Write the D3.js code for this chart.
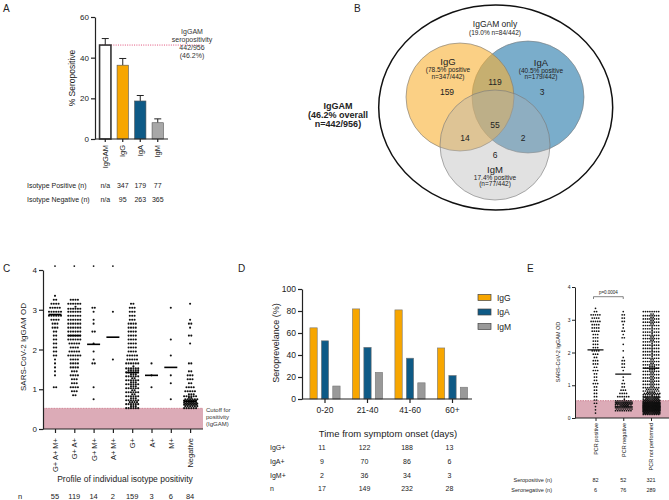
<!DOCTYPE html>
<html><head><meta charset="utf-8">
<script src="https://cdn.jsdelivr.net/npm/d3@7"></script>
<style>
body{margin:0;background:#fff;}
svg{font-family:"Liberation Sans",Arial,Helvetica,sans-serif;display:block;}
</style></head><body>
<svg id="fig" width="669" height="500"></svg>
<script>
// ---------------- DATA ----------------
// Panel A
const aCategories = ["IgGAM", "IgG", "IgA", "IgM"];
const aPercent = [46.2, 36.3, 18.7, 8.0];
const aErrUpper = [49.4, 39.6, 21.4, 9.9];
const aTicks = [0, 20, 40, 60];
const aCutoff = 46.2;
const aCutoffText = ["IgGAM", "seropositivity", "442/956", "(46.2%)"];
const aRowLabels = ["Isotype Positive (n)", "Isotype Negative (n)"];
const aPositive = ["n/a", "347", "179", "77"];
const aNegative = ["n/a", "95", "263", "365"];

// Panel B (Venn)
const vennSets = ["IgG", "IgA", "IgM"];
const vennSetPct = ["78.5", "40.5", "17.4"];
const vennSetN = [347, 179, 77];
const vennTotal = 442;
const vennRegions = ["G", "GA", "A", "GAM", "GM", "AM", "M"];
const vennRegionCounts = [159, 119, 3, 55, 14, 2, 6];
const vennOnlyText = ["IgGAM only", "(19.0% n=84/442)"];
const vennOverall = ["IgGAM", "(46.2% overall", "n=442/956)"];

// Panel C
const cCategories = ["G+ A+ M+", "G+ A+", "G+ M+", "A+ M+", "G+", "A+", "M+", "Negative"];
const cN = [55, 119, 14, 2, 159, 3, 6, 84];
const cMedians = [2.88, 2.35, 2.13, 2.31, 1.42, 1.35, 1.55, 0.7];
const cBinStart = [1.0, 0.8, 0.7, 1.7, 0.5, 1.0, 0.7, 0.5];   // OD, bins of 0.1
const cBinCounts = [
  [2,0,0,1,1,1,1,1,2,2,2,2,2,2,2,3,3,4,6,6,5,4,2,1],
  [2,3,4,3,3,4,3,4,4,4,6,5,4,5,6,6,6,6,6,6,6,6,7,6,4],
  [1,0,0,1,0,0,0,0,0,2,1,0,1,0,1,0,0,2,0,1,1,0,1,2],
  [1,0,0,0,0,0,0,0,0,0,0,0,1],
  [9,10,9,8,8,9,9,8,9,11,7,6,5,5,4,4,4,4,4,4,4,4,3,3,3,3,2],
  [1,0,0,1,0,0,1],
  [1,0,0,0,1,0,1,0,0,0,0,1,0,0,0,1,0,0,0,0,0,0,0,1],
  [12,20,14,9,5,4,2,3,3,2,0,2,0,0,0,0,1,0,2,0,1,2,1,0,0,0,1]
];
const cTopMarks = ["G+ A+ M+", "G+ A+", "G+ M+", "A+ M+"];
const cTopMarkValue = 4.1;
const cTicks = [0, 1, 2, 3, 4];
const cCutoff = 0.52;
const cCutoffText = ["Cutoff for", "positivity", "(IgGAM)"];

// Panel D
const dGroups = ["0-20", "21-40", "41-60", "60+"];
const dSeries = ["IgG", "IgA", "IgM"];
const dIgG = [64.7, 81.9, 81.0, 46.4];
const dIgA = [52.9, 47.0, 37.1, 21.4];
const dIgM = [11.8, 24.2, 14.7, 10.7];
const dTicks = [0, 20, 40, 60, 80, 100];
const dRowLabels = ["IgG+", "IgA+", "IgM+", "n"];
const dRowIgG = [11, 122, 188, 13];
const dRowIgA = [9, 70, 86, 6];
const dRowIgM = [2, 36, 34, 3];
const dRowN = [17, 149, 232, 28];

// Panel E
const eCategories = ["PCR positive", "PCR negative", "PCR not performed"];
const eMeans = [2.08, 1.34, 1.52];
const eBinStart = [0.1, 0.2, 0.1];
const eBinCounts = [
  [1,1,1,2,2,2,2,2,2,3,2,2,2,3,2,3,3,2,3,4,3,3,3,3,3,4,4,4,5,4,5,2,1],
  [16,28,32,9,6,4,3,2,2,1,1,0,1,2,2,2,1,0,1,0,1,0,2,1,2,1,1,2,2,2,1],
  [40,80,90,79,30,25,20,14,10,10,10,10,10,11,11,10,10,9,9,9,9,9,10,10,9,9,9,10,10,10,10,8]
];
const eTicks = [0, 1, 2, 3, 4];
const eCutoff = 0.53;
const ePValue = "p=0.0004";
const eRowLabels = ["Seropositive (n)", "Seronegative (n)"];
const eSeropositive = [82, 52, 321];
const eSeronegative = [6, 76, 289];

// ---------------- STYLE ----------------
const INK = "#222";
const cOrange = "#F7A600", cBlue = "#0E5A86", cGrayA = "#A8A8A8", cGrayD = "#999999";
const PINK = "#dcabb7", PINK_LINE = "#c86c80";
const intFmt = d3.format("d");

const svg = d3.select("#fig");

function txt(g, x, y, s, size, o = {}) {
  return g.append("text").attr("x", x).attr("y", y).attr("font-size", size)
    .attr("text-anchor", o.anchor || "middle").attr("fill", o.fill || INK)
    .attr("font-weight", o.weight || null).text(s);
}
function vtxt(g, x, y, s, size) {
  return g.append("text").attr("transform", `translate(${x},${y}) rotate(-90)`)
    .attr("font-size", size).attr("text-anchor", "middle").attr("fill", INK).text(s);
}
function styleAxis(g, size, w) {
  g.attr("font-family", null);
  g.selectAll(".domain").attr("stroke", INK).attr("stroke-width", w);
  g.selectAll(".tick line").attr("stroke", INK).attr("stroke-width", w);
  g.selectAll(".tick text").attr("font-size", size).attr("fill", INK);
}
function rotLabels(g, size) {
  g.selectAll(".tick text").attr("transform", "rotate(-90)").attr("text-anchor", "end")
    .attr("x", -6).attr("y", 0).attr("dy", "0.35em").attr("font-size", size);
}
// deterministic dot layout from binned values
function swarm(counts, start, yS, xc, maxPer, dx) {
  const pts = [];
  counts.forEach((c, i) => {
    if (!c) return;
    const rows = Math.ceil(c / maxPer);
    for (let r = 0; r < rows; r++) {
      const inRow = Math.min(maxPer, c - r * maxPer);
      const v = start + (i + (r + 0.5) / rows) * 0.1;
      const shift = (rows > 1 && r % 2) ? dx / 2 : 0;
      for (let k = 0; k < inRow; k++) {
        pts.push({ x: xc + (k - (inRow - 1) / 2) * dx + shift, y: yS(v) });
      }
    }
  });
  return pts;
}

// ---------------- PANEL A ----------------
{
  const g = svg.append("g");
  txt(g, 3, 12, "A", 10, { anchor: "start" });
  const y = d3.scaleLinear().domain([0, 60]).range([139, 17]);
  const x = d3.scaleBand().domain(aCategories).range([96.5, 166.5]).paddingInner(0.35).paddingOuter(0.175);
  const fills = [ "#ffffff", cOrange, cBlue, cGrayA ];
  g.append("line").attr("x1", x("IgGAM")).attr("x2", 203).attr("y1", y(aCutoff)).attr("y2", y(aCutoff))
    .attr("stroke", "#e0507a").attr("stroke-width", 1).attr("stroke-dasharray", "1,1.3");
  aCategories.forEach((c, i) => {
    const xc = x(c) + x.bandwidth() / 2;
    g.append("line").attr("x1", xc).attr("x2", xc).attr("y1", y(aPercent[i])).attr("y2", y(aErrUpper[i]))
      .attr("stroke", INK).attr("stroke-width", 1);
    g.append("line").attr("x1", xc - 3.5).attr("x2", xc + 3.5).attr("y1", y(aErrUpper[i])).attr("y2", y(aErrUpper[i]))
      .attr("stroke", INK).attr("stroke-width", 1);
    g.append("rect").attr("x", x(c)).attr("width", x.bandwidth()).attr("y", y(aPercent[i]))
      .attr("height", y(0) - y(aPercent[i])).attr("fill", fills[i])
      .attr("stroke", i === 0 ? "#333" : "#555").attr("stroke-width", i === 0 ? 1.6 : 0.6);
  });
  const gy = g.append("g").attr("transform", "translate(95,0)")
    .call(d3.axisLeft(y).tickValues(aTicks).tickSize(4).tickSizeOuter(0).tickPadding(2));
  styleAxis(gy, 8, 1.2);
  const gx = g.append("g").attr("transform", "translate(0,139)")
    .call(d3.axisBottom(x).tickSize(3).tickSizeOuter(0));
  styleAxis(gx, 8, 1.2);
  gx.select(".domain").attr("d", "M95,0H168");
  rotLabels(gx, 7.5);
  vtxt(g, 75, 78, "% Seropositive", 8.5);
  aCutoffText.forEach((s, i) => txt(g, 192, 34 + i * 8, s, 7, { fill: "#333" }));
  aRowLabels.forEach((s, i) => txt(g, 27, 188 + i * 14, s, 7, { anchor: "start" }));
  aCategories.forEach((c, i) => {
    const xc = x(c) + x.bandwidth() / 2;
    txt(g, xc, 188, aPositive[i], 7);
    txt(g, xc, 202, aNegative[i], 7);
  });
}

// ---------------- PANEL B ----------------
{
  const g = svg.append("g");
  txt(g, 354, 12, "B", 10, { anchor: "start" });
  g.append("ellipse").attr("cx", 495.7).attr("cy", 107.5).attr("rx", 117).attr("ry", 102.5)
    .attr("fill", "none").attr("stroke", "#111").attr("stroke-width", 1.5);
  const circ = {
    IgA: { cx: 528, cy: 97, r: 56, fill: "#2277A8", op: 0.6 },
    IgG: { cx: 460, cy: 97, r: 54, fill: "#F8B133", op: 0.6 },
    IgM: { cx: 495, cy: 145, r: 55, fill: "#B0B0B0", op: 0.38 }
  };
  ["IgA", "IgG", "IgM"].forEach(k => {
    const c = circ[k];
    g.append("circle").attr("cx", c.cx).attr("cy", c.cy).attr("r", c.r)
      .attr("fill", c.fill).attr("fill-opacity", c.op).attr("stroke", "#777").attr("stroke-width", 0.6);
  });
  const regionPos = { G: [447, 95], GA: [495, 84.5], A: [542, 95], GAM: [495, 128], GM: [465, 141], AM: [523, 141], M: [495, 158] };
  vennRegions.forEach((r, i) => txt(g, regionPos[r][0], regionPos[r][1], vennRegionCounts[i], 8.5));
  txt(g, 495, 27, vennOnlyText[0], 8.5);
  txt(g, 495, 34.5, vennOnlyText[1], 6.5);
  txt(g, 448, 65, vennSets[0], 9.5);
  txt(g, 448, 72, `(${vennSetPct[0]}% positive`, 6.5);
  txt(g, 448, 78.5, `n=${vennSetN[0]}/${vennTotal})`, 6.5);
  txt(g, 541, 66, vennSets[1], 9.5);
  txt(g, 541, 72.5, `(${vennSetPct[1]}% positive`, 6.5);
  txt(g, 541, 78.5, `n=${vennSetN[1]}/${vennTotal})`, 6.5);
  txt(g, 495, 172.5, vennSets[2], 9.5);
  txt(g, 495, 179.5, `${vennSetPct[2]}% positive`, 6.5);
  txt(g, 495, 186, `(n=${vennSetN[2]}/${vennTotal})`, 6.5);
  vennOverall.forEach((s, i) => txt(g, 338, 109 + i * 9, s, 9, { weight: "bold" }));
}

// ---------------- PANEL C ----------------
{
  const g = svg.append("g");
  txt(g, 3, 272, "C", 10, { anchor: "start" });
  const y = d3.scaleLinear().domain([0, 4]).range([429, 270]);
  const x = d3.scalePoint().domain(cCategories).range([55, 190.1]);
  g.append("rect").attr("x", 43).attr("width", 160).attr("y", y(cCutoff)).attr("height", y(0) - y(cCutoff)).attr("fill", PINK);
  g.append("line").attr("x1", 43).attr("x2", 203).attr("y1", y(cCutoff)).attr("y2", y(cCutoff))
    .attr("stroke", PINK_LINE).attr("stroke-width", 0.9).attr("stroke-dasharray", "0.8,0.8");
  cCategories.forEach((c, i) => {
    const pts = swarm(cBinCounts[i], cBinStart[i], y, x(c), 6, 2.4);
    g.append("g").selectAll("circle").data(pts).join("circle")
      .attr("cx", d => d.x).attr("cy", d => d.y).attr("r", 1.05).attr("fill", "#111");
    g.append("line").attr("x1", x(c) - 6.5).attr("x2", x(c) + 6.5).attr("y1", y(cMedians[i])).attr("y2", y(cMedians[i]))
      .attr("stroke", "#000").attr("stroke-width", 1.6);
  });
  cTopMarks.forEach(c => g.append("circle").attr("cx", x(c)).attr("cy", y(cTopMarkValue)).attr("r", 0.9).attr("fill", "#111"));
  const gy = g.append("g").attr("transform", "translate(43,0)")
    .call(d3.axisLeft(y).tickValues(cTicks).tickFormat(intFmt).tickSize(4).tickSizeOuter(0).tickPadding(2));
  styleAxis(gy, 8, 1.2);
  const gx = g.append("g").attr("transform", `translate(0,${y(0)})`)
    .call(d3.axisBottom(x).tickSize(4).tickSizeOuter(0));
  styleAxis(gx, 8, 1.2);
  gx.select(".domain").attr("d", "M43,0H203");
  rotLabels(gx, 7.5);
  gx.selectAll(".tick text").attr("x", -9);
  vtxt(g, 26, 347, "SARS-CoV-2 IgGAM OD", 8);
  txt(g, 125, 482, "Profile of individual isotype positivity", 8.5);
  txt(g, 20, 499, "n", 7.5);
  cCategories.forEach((c, i) => txt(g, x(c), 499, cN[i], 7.5));
  cCutoffText.forEach((s, i) => txt(g, 206, 412 + i * 7, s, 6, { anchor: "start", fill: "#333" }));
}

// ---------------- PANEL D ----------------
{
  const g = svg.append("g");
  txt(g, 238, 272, "D", 10, { anchor: "start" });
  const y = d3.scaleLinear().domain([0, 100]).range([399, 289]);
  const x0 = d3.scaleBand().domain(dGroups).range([303.75, 473.75]);
  const x1 = d3.scaleBand().domain(dSeries).range([-15.1, 15.1]).paddingInner(0.36);
  const seriesVals = { IgG: dIgG, IgA: dIgA, IgM: dIgM };
  const seriesCol = { IgG: cOrange, IgA: cBlue, IgM: cGrayD };
  dGroups.forEach((grp, gi) => {
    const gc = x0(grp) + x0.bandwidth() / 2;
    dSeries.forEach(s => {
      const v = seriesVals[s][gi];
      g.append("rect").attr("x", gc + x1(s)).attr("width", x1.bandwidth())
        .attr("y", y(v)).attr("height", y(0) - y(v)).attr("fill", seriesCol[s])
        .attr("stroke", "#777").attr("stroke-width", 0.6);
    });
  });
  const gy = g.append("g").attr("transform", "translate(302,0)")
    .call(d3.axisLeft(y).tickValues(dTicks).tickSize(4).tickSizeOuter(0).tickPadding(2));
  styleAxis(gy, 8.5, 1.2);
  const gx = g.append("g").attr("transform", "translate(0,399)")
    .call(d3.axisBottom(x0).tickSize(4).tickSizeOuter(0).tickPadding(4));
  styleAxis(gx, 8.5, 1.2);
  gx.select(".domain").attr("d", "M302,0H472");
  vtxt(g, 279, 343, "Seroprevelance (%)", 9);
  txt(g, 388, 437, "Time from symptom onset (days)", 9.5);
  const rows = [dRowIgG, dRowIgA, dRowIgM, dRowN];
  dRowLabels.forEach((s, ri) => {
    const yy = 450 + ri * 13.8;
    txt(g, 270, yy, s, 7, { anchor: "start" });
    dGroups.forEach((grp, gi) => txt(g, x0(grp) + x0.bandwidth() / 2 - 3, yy, rows[ri][gi], 7));
  });
  dSeries.forEach((s, i) => {
    g.append("rect").attr("x", 478).attr("y", 294.5 + i * 14.5).attr("width", 13).attr("height", 6)
      .attr("fill", seriesCol[s]).attr("stroke", "#444").attr("stroke-width", 0.7);
    txt(g, 497, 300.5 + i * 14.5, s, 8.5, { anchor: "start" });
  });
}

// ---------------- PANEL E ----------------
{
  const g = svg.append("g");
  txt(g, 527, 272, "E", 10, { anchor: "start" });
  const y = d3.scaleLinear().domain([0, 4]).range([418, 287]);
  const x = d3.scalePoint().domain(eCategories).range([595.5, 651]);
  g.append("rect").attr("x", 575).attr("width", 94).attr("y", y(eCutoff)).attr("height", y(0) - y(eCutoff)).attr("fill", PINK);
  g.append("line").attr("x1", 575).attr("x2", 669).attr("y1", y(eCutoff)).attr("y2", y(eCutoff))
    .attr("stroke", PINK_LINE).attr("stroke-width", 0.8).attr("stroke-dasharray", "1.5,1");
  eCategories.forEach((c, i) => {
    const pts = swarm(eBinCounts[i], eBinStart[i], y, x(c), 8, 2.2);
    g.append("g").selectAll("circle").data(pts).join("circle")
      .attr("cx", d => d.x).attr("cy", d => d.y).attr("r", 0.85).attr("fill", "#111");
    g.append("line").attr("x1", x(c) - 8).attr("x2", x(c) + 8).attr("y1", y(eMeans[i])).attr("y2", y(eMeans[i]))
      .attr("stroke", "#000").attr("stroke-width", 1.2);
  });
  const x1 = x(eCategories[0]) - 2, x2 = x(eCategories[1]);
  g.append("path").attr("d", `M${x1},299V296.7H${x2}V299`).attr("fill", "none").attr("stroke", "#333").attr("stroke-width", 0.6);
  txt(g, (x1 + x2) / 2, 294, ePValue, 4.5);
  const gy = g.append("g").attr("transform", "translate(575,0)")
    .call(d3.axisLeft(y).tickValues(eTicks).tickFormat(intFmt).tickSize(3).tickSizeOuter(0).tickPadding(1.5));
  styleAxis(gy, 5, 1);
  const gx = g.append("g").attr("transform", `translate(0,${y(0)})`)
    .call(d3.axisBottom(x).tickSize(3).tickSizeOuter(0));
  styleAxis(gx, 5.5, 1);
  gx.select(".domain").attr("d", "M575,0H669");
  rotLabels(gx, 5.5);
  gx.selectAll(".tick text").attr("x", -5);
  vtxt(g, 560, 352, "SARS-CoV-2 IgGAM OD", 5.5);
  txt(g, 552, 482, eRowLabels[0], 5.5, { anchor: "end" });
  txt(g, 552, 492, eRowLabels[1], 5.5, { anchor: "end" });
  eCategories.forEach((c, i) => {
    txt(g, x(c), 482, eSeropositive[i], 5.5);
    txt(g, x(c), 492, eSeronegative[i], 5.5);
  });
}
</script></body></html>
